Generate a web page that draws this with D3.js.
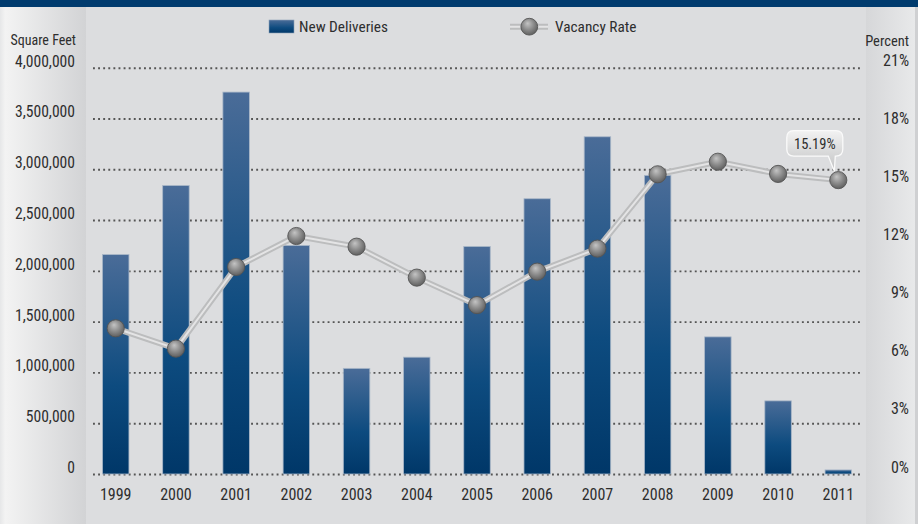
<!DOCTYPE html>
<html><head><meta charset="utf-8">
<script src="https://cdn.jsdelivr.net/npm/d3@7"></script>
<style>
html,body{margin:0;padding:0;background:#dcdddf;}
svg{display:block;}
text{font-family:"Liberation Sans Narrow","Arial Narrow","Roboto Condensed","DejaVu Sans Condensed",sans-serif;fill:#2e2e2e;}
</style></head>
<body>
<svg id="c" width="918" height="524"></svg>
<script>
const years = ["1999","2000","2001","2002","2003","2004","2005","2006","2007","2008","2009","2010","2011"];
const deliveries = [2160000,2840000,3760000,2250000,1040000,1150000,2240000,2710000,3320000,2940000,1350000,720000,40000];
const vacancy = [7.53,6.48,10.70,12.30,11.75,10.15,8.73,10.46,11.65,15.49,16.14,15.51,15.19];
const leftTicks = [0,500000,1000000,1500000,2000000,2500000,3000000,3500000,4000000];
const rightTicks = [0,3,6,9,12,15,18,21];
const calloutIndex = 12;
const calloutLabel = "15.19%";
const seriesNames = ["New Deliveries","Vacancy Rate"];
const axisTitles = ["Square Feet","Percent"];

const W = 918, H = 524;
const svg = d3.select("#c");
const defs = svg.append("defs");

// gradients
const lp = defs.append("linearGradient").attr("id","leftPanel").attr("x1","0").attr("x2","1").attr("y1","0").attr("y2","0");
lp.append("stop").attr("offset","0").attr("stop-color","#e6e7e8");
lp.append("stop").attr("offset","0.06").attr("stop-color","#f3f3f3");
lp.append("stop").attr("offset","1").attr("stop-color","#d2d3d5");
const rp = defs.append("linearGradient").attr("id","rightPanel").attr("x1","0").attr("x2","1").attr("y1","0").attr("y2","0");
rp.append("stop").attr("offset","0").attr("stop-color","#d6d7d9");
rp.append("stop").attr("offset","1").attr("stop-color","#e8e9ea");
const bg = defs.append("linearGradient").attr("id","barGrad").attr("x1","0").attr("x2","0").attr("y1","0").attr("y2","1");
bg.append("stop").attr("offset","0").attr("stop-color","#4a6c98");
bg.append("stop").attr("offset","0.6").attr("stop-color","#0d4b7f");
bg.append("stop").attr("offset","1").attr("stop-color","#003768");
const cg = defs.append("radialGradient").attr("id","ballGrad").attr("cx","0.45").attr("cy","0.4").attr("r","0.6").attr("fx","0.4").attr("fy","0.3");
cg.append("stop").attr("offset","0").attr("stop-color","#c4c4c4");
cg.append("stop").attr("offset","0.55").attr("stop-color","#8c8c8c");
cg.append("stop").attr("offset","1").attr("stop-color","#606060");
const co = defs.append("linearGradient").attr("id","callGrad").attr("x1","0").attr("x2","0").attr("y1","0").attr("y2","1");
co.append("stop").attr("offset","0").attr("stop-color","#f2f2f2");
co.append("stop").attr("offset","1").attr("stop-color","#c2c3c4");

// background panels
svg.append("rect").attr("x",0).attr("y",0).attr("width",W).attr("height",H).attr("fill","#dcdddf");
svg.append("rect").attr("x",0).attr("y",0).attr("width",86).attr("height",H).attr("fill","url(#leftPanel)");
svg.append("rect").attr("x",866).attr("y",0).attr("width",49).attr("height",H).attr("fill","url(#rightPanel)");
svg.append("rect").attr("x",915).attr("y",0).attr("width",3).attr("height",H).attr("fill","#cfd0d2");
svg.append("rect").attr("x",0).attr("y",0).attr("width",W).attr("height",7).attr("fill","#003b6e");

// scales
const x = d3.scaleBand().domain(years).range([85.6, 868.4]).paddingInner(0.56).paddingOuter(0.28);
const yL = d3.scaleLinear().domain([0,4000000]).range([474, 67.7]);
const yR = d3.scaleLinear().domain([0,21]).range([474, 67.7]);
const cx = d => x(d) + x.bandwidth()/2;

// gridlines
const grid = svg.append("g").attr("transform","translate(93,0)")
  .call(d3.axisRight(yL).tickValues(leftTicks).tickSize(767).tickFormat(""));
grid.select(".domain").remove();
grid.selectAll("line").attr("stroke","#555").attr("stroke-width",1.9).attr("stroke-dasharray","1.9 3.2");

// left axis labels
const la = svg.append("g").attr("transform","translate(75,0)")
  .call(d3.axisLeft(yL).tickValues(leftTicks).tickSize(0).tickPadding(0).tickFormat(d3.format(",")));
la.select(".domain").remove();
la.selectAll("text").attr("dy","-1.5").attr("font-size","15.6px").attr("font-family",null).attr("fill","#2e2e2e");

// right axis labels
const ra = svg.append("g").attr("transform","translate(909,0)")
  .call(d3.axisLeft(yR).tickValues(rightTicks).tickSize(0).tickPadding(0).tickFormat(d => d + "%"));
ra.select(".domain").remove();
ra.selectAll("text").attr("dy","-2").attr("font-size","16px").attr("font-family",null).attr("fill","#2e2e2e");

// axis titles
svg.append("text").attr("x",76).attr("y",45).attr("text-anchor","end").attr("font-size","14px").text(axisTitles[0]);
svg.append("text").attr("x",909).attr("y",45.5).attr("text-anchor","end").attr("font-size","14.5px").text(axisTitles[1]);

// bars
svg.append("g").selectAll("rect").data(years).join("rect")
  .attr("x", d => x(d))
  .attr("y", (d,i) => yL(deliveries[i]))
  .attr("width", x.bandwidth())
  .attr("height", (d,i) => yL(0) - yL(deliveries[i]))
  .attr("fill","url(#barGrad)")
  .attr("stroke","#a9b7c8").attr("stroke-width",0.8);

// x axis labels
const xa = svg.append("g").attr("transform","translate(0,474)")
  .call(d3.axisBottom(x).tickSize(0).tickPadding(0));
xa.select(".domain").remove();
xa.selectAll("text").attr("dy",null).attr("y",26).attr("font-size","16px").attr("font-family",null).attr("fill","#2e2e2e");

// vacancy line
const line = d3.line().x((d,i) => cx(years[i])).y(d => yR(d));
svg.append("path").datum(vacancy).attr("d",line).attr("fill","none").attr("stroke","#bcbdbe").attr("stroke-width",6).attr("stroke-linejoin","round");
svg.append("path").datum(vacancy).attr("d",line).attr("fill","none").attr("stroke","#e4e4e5").attr("stroke-width",2).attr("stroke-linejoin","round");
svg.append("g").selectAll("circle").data(vacancy).join("circle")
  .attr("cx",(d,i) => cx(years[i])).attr("cy", d => yR(d)).attr("r",8.6)
  .attr("fill","url(#ballGrad)").attr("stroke","#555").attr("stroke-width",0.9);

// callout
const px = cx(years[calloutIndex]), py = yR(vacancy[calloutIndex]);
const bx0 = px - 51.5, bx1 = px + 4.5, by0 = py - 49.5, by1 = py - 24, r = 7;
const cp = d3.path();
cp.moveTo(bx0 + r, by0);
cp.lineTo(bx1 - r, by0);
cp.quadraticCurveTo(bx1, by0, bx1, by0 + r);
cp.lineTo(bx1, by1 - r);
cp.quadraticCurveTo(bx1, by1, bx1 - r, by1);
cp.lineTo(px - 3, by1);
cp.lineTo(px - 4, py - 9);
cp.lineTo(px - 10, by1);
cp.lineTo(bx0 + r, by1);
cp.quadraticCurveTo(bx0, by1, bx0, by1 - r);
cp.lineTo(bx0, by0 + r);
cp.quadraticCurveTo(bx0, by0, bx0 + r, by0);
cp.closePath();
svg.append("path").attr("d", cp.toString()).attr("fill","url(#callGrad)").attr("stroke","#fafafa").attr("stroke-width",1.3);
svg.append("text").attr("x",(bx0+bx1)/2).attr("y",by0 + 18).attr("text-anchor","middle").attr("font-size","14.5px").text(calloutLabel);

// legend
const lg = svg.append("g");
lg.append("rect").attr("x",269).attr("y",20).attr("width",25).attr("height",13).attr("fill","url(#barGrad)").attr("stroke","#8ea2ba").attr("stroke-width",0.6);
lg.append("text").attr("x",299).attr("y",32.3).attr("font-size","15.3px").text(seriesNames[0]);
lg.append("line").attr("x1",510).attr("x2",548).attr("y1",26.7).attr("y2",26.7).attr("stroke","#bcbdbe").attr("stroke-width",6);
lg.append("line").attr("x1",510).attr("x2",548).attr("y1",26.7).attr("y2",26.7).attr("stroke","#e4e4e5").attr("stroke-width",2);
lg.append("circle").attr("cx",529.3).attr("cy",26.7).attr("r",8.4).attr("fill","url(#ballGrad)").attr("stroke","#555").attr("stroke-width",0.9);
lg.append("text").attr("x",555).attr("y",32.3).attr("font-size","15.3px").text(seriesNames[1]);
</script>
</body></html>
